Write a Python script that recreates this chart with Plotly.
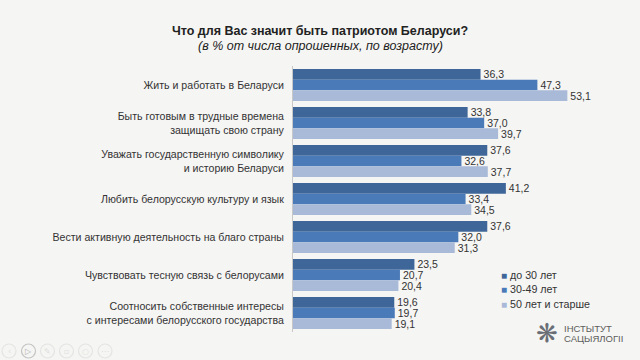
import plotly.graph_objects as go

categories = [
    "Жить и работать в Беларуси",
    "Быть готовым в трудные времена<br>защищать свою страну",
    "Уважать государственную символику<br>и историю Беларуси",
    "Любить белорусскую культуру и язык",
    "Вести активную деятельность на благо страны",
    "Чувствовать тесную связь с белорусами",
    "Соотносить собственные интересы<br>с интересами белорусского государства",
]
under_30 = [36.3, 33.8, 37.6, 41.2, 37.6, 23.5, 19.6]
age_30_49 = [47.3, 37.0, 32.6, 33.4, 32.0, 20.7, 19.7]
age_50_plus = [53.1, 39.7, 37.7, 34.5, 31.3, 20.4, 19.1]
series_names = ["до 30 лет", "30-49 лет", "50 лет и старше"]
series_colors = ["#3f6699", "#4a7ab8", "#a9b9d8"]
BG = "#f5f5f3"
FONT = "Liberation Sans"
W, H = 640, 360
L, R, T, B = 293, 37, 66, 28


def px(x):
    return (x - L) / (W - L - R)


def py(y):
    return 1 - (y - T) / (H - T - B)


fig = go.Figure()
for name, vals, col in zip(series_names, [under_30, age_30_49, age_50_plus], series_colors):
    fig.add_bar(y=categories, x=vals, name=name, orientation="h", marker=dict(color=col, line_width=0),
                text=vals, texttemplate="%{x:.1f}", textposition="outside", cliponaxis=False,
                constraintext="none", textfont=dict(size=10.5, color="#333333", family=FONT))

annotations = [dict(xref="paper", yref="paper", x=px(320), y=py(46), xanchor="center", yanchor="middle",
                    showarrow=False, text="<i>(в % от числа опрошенных, по возрасту)</i>",
                    font=dict(size=12.5, color="#222222", family=FONT))]
for i, (name, col) in enumerate(zip(series_names, series_colors)):
    annotations.append(dict(xref="paper", yref="paper", x=px(499), y=py(275 + 14.3 * i),
                            xanchor="left", yanchor="middle", showarrow=False, align="left",
                            text=f'<span style="color:{col};font-size:10px">■</span> {name}',
                            font=dict(size=10.7, color="#333333", family=FONT)))
for line, yy in [("ІНСТЫТУТ", 328), ("САЦЫЯЛОГІІ", 338.5)]:
    annotations.append(dict(xref="paper", yref="paper", x=px(562), y=py(yy),
                            xanchor="left", yanchor="middle", showarrow=False, align="left",
                            text=line, font=dict(size=9.5, color="#5c5c5c", family=FONT)))
annotations.append(dict(xref="paper", yref="paper", x=px(547), y=py(333),
                        xanchor="center", yanchor="middle", showarrow=False,
                        text="❋", font=dict(size=26, color="#6a6f76", family="DejaVu Sans")))

shapes = []
controls = [(9, "‹"), (28.5, "▷"), (47.5, "✎"), (66.5, "▫"), (85.5, "○"), (105, "⋯")]
for cx, glyph in controls:
    active = cx == 28.5
    shapes.append(dict(type="circle", xref="paper", yref="paper",
                       x0=px(cx - 7), x1=px(cx + 7), y0=py(358), y1=py(344),
                       line=dict(color="#c4c4c4" if active else "#e4e4e2", width=1.2)))
    annotations.append(dict(xref="paper", yref="paper", x=px(cx), y=py(351), xanchor="center", yanchor="middle",
                            showarrow=False, text=glyph,
                            font=dict(size=8, color="#b0b0b0" if active else "#dededc", family="DejaVu Sans")))

fig.update_layout(
    width=W, height=H, autosize=False,
    margin=dict(l=L, r=R, t=T, b=B, autoexpand=False),
    paper_bgcolor=BG, plot_bgcolor=BG,
    separators=", ",
    barmode="group", bargap=0.16, bargroupgap=0,
    font=dict(family=FONT, size=10, color="#333333"),
    title=dict(text="<b>Что для Вас значит быть патриотом Беларуси?</b>",
               x=0.5, xanchor="center", y=1 - 31 / H, yanchor="middle", font=dict(size=12.5, color="#222222", family=FONT)),
    showlegend=False,
    annotations=annotations,
    shapes=shapes,
)
fig.update_xaxes(range=[0, 60], visible=False)
fig.update_yaxes(autorange="reversed", showline=True, linecolor="#c8c8c8", linewidth=1, ticks="", ticklen=0,
                 tickfont=dict(size=10.6, color="#333333"), ticklabelstandoff=6, showgrid=False)
fig.write_html("out.html", config={"displayModeBar": False},
               post_script="document.body.style.margin='0';document.documentElement.style.background='" + BG + "';")
